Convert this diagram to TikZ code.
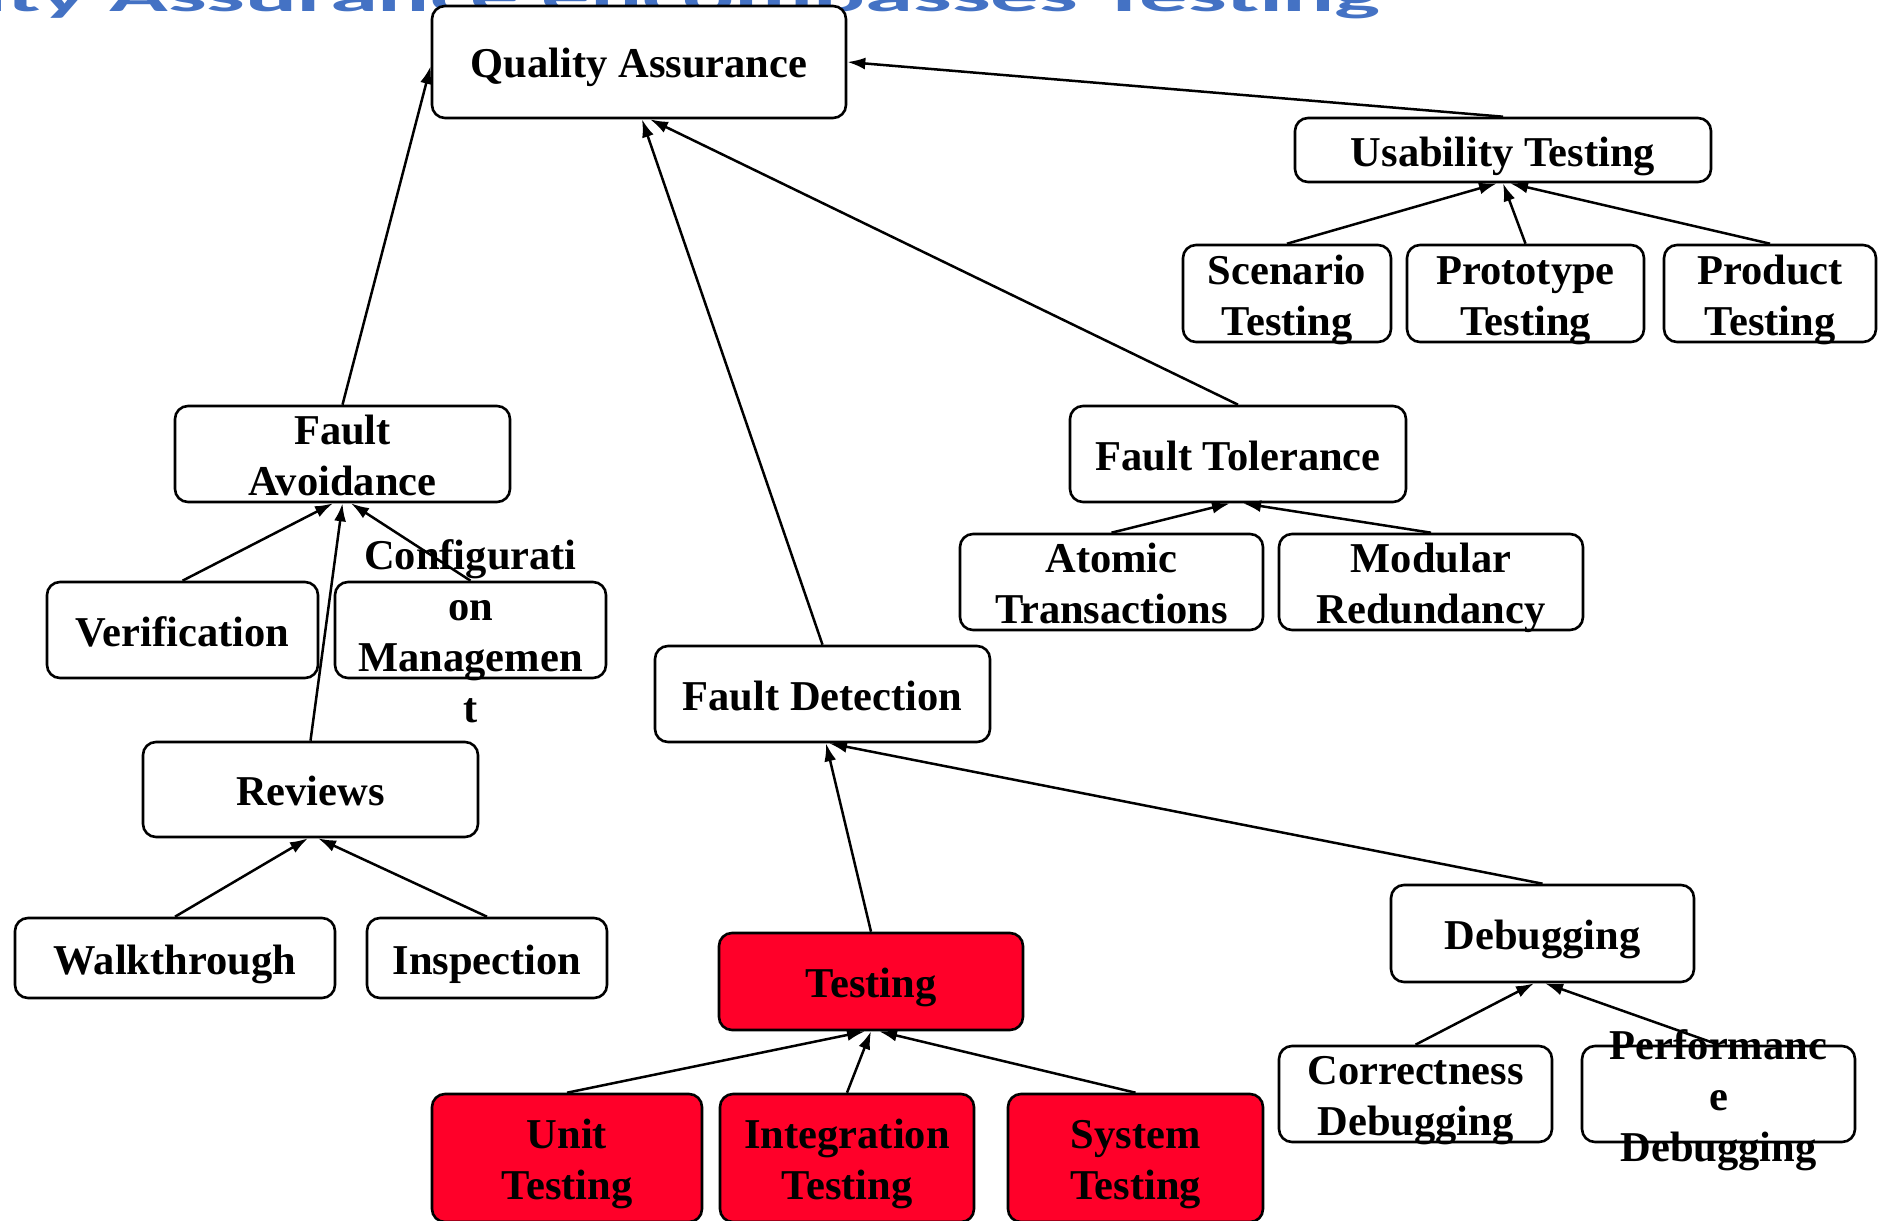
\documentclass[tikz,border=0pt]{standalone}
\usepackage{fontspec}
\usepackage{graphicx}
\setmainfont{Liberation Serif}
\newfontfamily\titlefont{Carlito}
\usetikzlibrary{arrows.meta}

\definecolor{titleblue}{RGB}{68,114,196}
\definecolor{testred}{RGB}{255,0,41}

% box text: every line gets the same strut so blocks centre on their capitals
\newcommand\boxfont{\fontsize{42.5pt}{51pt}\selectfont\bfseries}
\newcommand\capline[1]{\rule{0pt}{32pt}\smash{#1}}

\tikzset{
  box/.style={draw, line width=2.6pt, rounded corners=13pt, fill=white,
              inner sep=0pt, anchor=center},
  redbox/.style={box, fill=testred},
  txt/.style={inner sep=0pt, align=center, font=\boxfont},
  link/.style={line width=2.5pt, -{Latex[length=18pt,width=12pt]}},
}

\begin{document}
\begin{tikzpicture}[x=1pt, y=-1pt]
\useasboundingbox (0,0) rectangle (1878,1220);
\clip (0,0) rectangle (1878,1220);

% slide heading, cut by the top edge
\node[anchor=base east, inner sep=0pt, text=titleblue,
      font=\titlefont\bfseries\fontsize{97pt}{100pt}\selectfont] (title) at (1381,12)
  {\scalebox{1}[0.45]{Quality Assurance encompasses Testing}};

% ---------- boxes ----------
\node[box, minimum width=414pt, minimum height=112pt] (qa) at (639,62) {};
\node[box, minimum width=416pt, minimum height=64pt]  (ut) at (1503,150) {};
\node[box, minimum width=208pt, minimum height=97pt]  (sc) at (1287,293.5) {};
\node[box, minimum width=237pt, minimum height=97pt]  (pr) at (1525.5,293.5) {};
\node[box, minimum width=212pt, minimum height=97pt]  (pd) at (1770,293.5) {};
\node[box, minimum width=335pt, minimum height=96pt]  (fa) at (342.5,454) {};
\node[box, minimum width=336pt, minimum height=96pt]  (ft) at (1238,454) {};
\node[box, minimum width=303pt, minimum height=96pt]  (at) at (1111.5,582) {};
\node[box, minimum width=304pt, minimum height=96pt]  (mr) at (1431,582) {};
\node[box, minimum width=271pt, minimum height=96pt]  (ve) at (182.5,630) {};
\node[box, minimum width=271pt, minimum height=96pt]  (cm) at (470.5,630) {};
\node[box, minimum width=335pt, minimum height=96pt]  (fd) at (822.5,694) {};
\node[box, minimum width=335pt, minimum height=95pt]  (rv) at (310.5,789.5) {};
\node[box, minimum width=320pt, minimum height=80pt]  (wt) at (175,958) {};
\node[box, minimum width=240pt, minimum height=80pt]  (ip) at (487,958) {};
\node[redbox, minimum width=304pt, minimum height=97pt] (ts) at (871,981.5) {};
\node[box, minimum width=303pt, minimum height=97pt]  (db) at (1542.5,933.5) {};
\node[box, minimum width=273pt, minimum height=96pt]  (cd) at (1415.5,1094) {};
\node[box, minimum width=273pt, minimum height=96pt]  (pf) at (1718.5,1094) {};
\node[redbox, minimum width=270pt, minimum height=128pt] (un) at (567,1158) {};
\node[redbox, minimum width=254pt, minimum height=128pt] (ig) at (847,1158) {};
\node[redbox, minimum width=255pt, minimum height=128pt] (sy) at (1135.5,1158) {};

% ---------- connectors ----------
\draw[link] (fa.north) -- ([yshift=-4pt]qa.west);
\draw[link] (fd.north) -- ([xshift=3pt]qa.south);
\draw[link] (ft.north) -- ([xshift=11pt]qa.south);
\draw[link] (ut.north) -- (qa.east);
\draw[link] (sc.north) -- ([xshift=-6pt]ut.south);
\draw[link] (pr.north) -- (ut.south);
\draw[link] (pd.north) -- ([xshift=7pt]ut.south);
\draw[link] (ve.north) -- ([xshift=-9.5pt]fa.south);
\draw[link] (cm.north) -- ([xshift=8.5pt]fa.south);
\draw[link] (rv.north) -- (fa.south);
\draw[link] (at.north) -- ([xshift=-8pt]ft.south);
\draw[link] (mr.north) -- ([xshift=5pt]ft.south);
\draw[link] (wt.north) -- ([xshift=-2.5pt]rv.south);
\draw[link] (ip.north) -- ([xshift=7.5pt]rv.south);
\draw[link] (ts.north) -- ([xshift=3.5pt]fd.south);
\draw[link] (db.north) -- ([xshift=6.5pt]fd.south);
\draw[link] (un.north) -- ([xshift=-6pt]ts.south);
\draw[link] (ig.north) -- (ts.south);
\draw[link] (sy.north) -- ([xshift=8pt]ts.south);
\draw[link] (cd.north) -- ([xshift=-8.5pt]db.south);
\draw[link] (pf.north) -- ([xshift=2.5pt]db.south);

% ---------- labels ----------
\node[txt] (qa-t) at (qa) {\capline{Quality Assurance}};
\node[txt] (ut-t) at (ut) {\capline{Usability Testing}};
\node[txt] (sc-t) at (sc) {\capline{Scenario}\\\capline{Testing}};
\node[txt] (pr-t) at (pr) {\capline{Prototype}\\\capline{Testing}};
\node[txt] (pd-t) at (pd) {\capline{Product}\\\capline{Testing}};
\node[txt] (fa-t) at (fa) {\capline{Fault}\\\capline{Avoidance}};
\node[txt] (ft-t) at (ft) {\capline{Fault Tolerance}};
\node[txt] (at-t) at (at) {\capline{Atomic}\\\capline{Transactions}};
\node[txt] (mr-t) at (mr) {\capline{Modular}\\\capline{Redundancy}};
\node[txt] (ve-t) at (ve) {\capline{Verification}};
\node[txt] (cm-t) at (cm) {\capline{Configurati}\\\capline{on}\\\capline{Managemen}\\\capline{t}};
\node[txt] (fd-t) at (fd) {\capline{Fault Detection}};
\node[txt] (rv-t) at (rv) {\capline{Reviews}};
\node[txt] (wt-t) at (wt) {\capline{Walkthrough}};
\node[txt] (ip-t) at (ip) {\capline{Inspection}};
\node[txt] (ts-t) at (ts) {\capline{Testing}};
\node[txt] (db-t) at (db) {\capline{Debugging}};
\node[txt] (cd-t) at (cd) {\capline{Correctness}\\\capline{Debugging}};
\node[txt] (pf-t) at (pf) {\capline{Performanc}\\\capline{e}\\\capline{Debugging}};
\node[txt] (un-t) at (un) {\capline{Unit}\\\capline{Testing}};
\node[txt] (ig-t) at (ig) {\capline{Integration}\\\capline{Testing}};
\node[txt] (sy-t) at (sy) {\capline{System}\\\capline{Testing}};
\end{tikzpicture}
\end{document}
